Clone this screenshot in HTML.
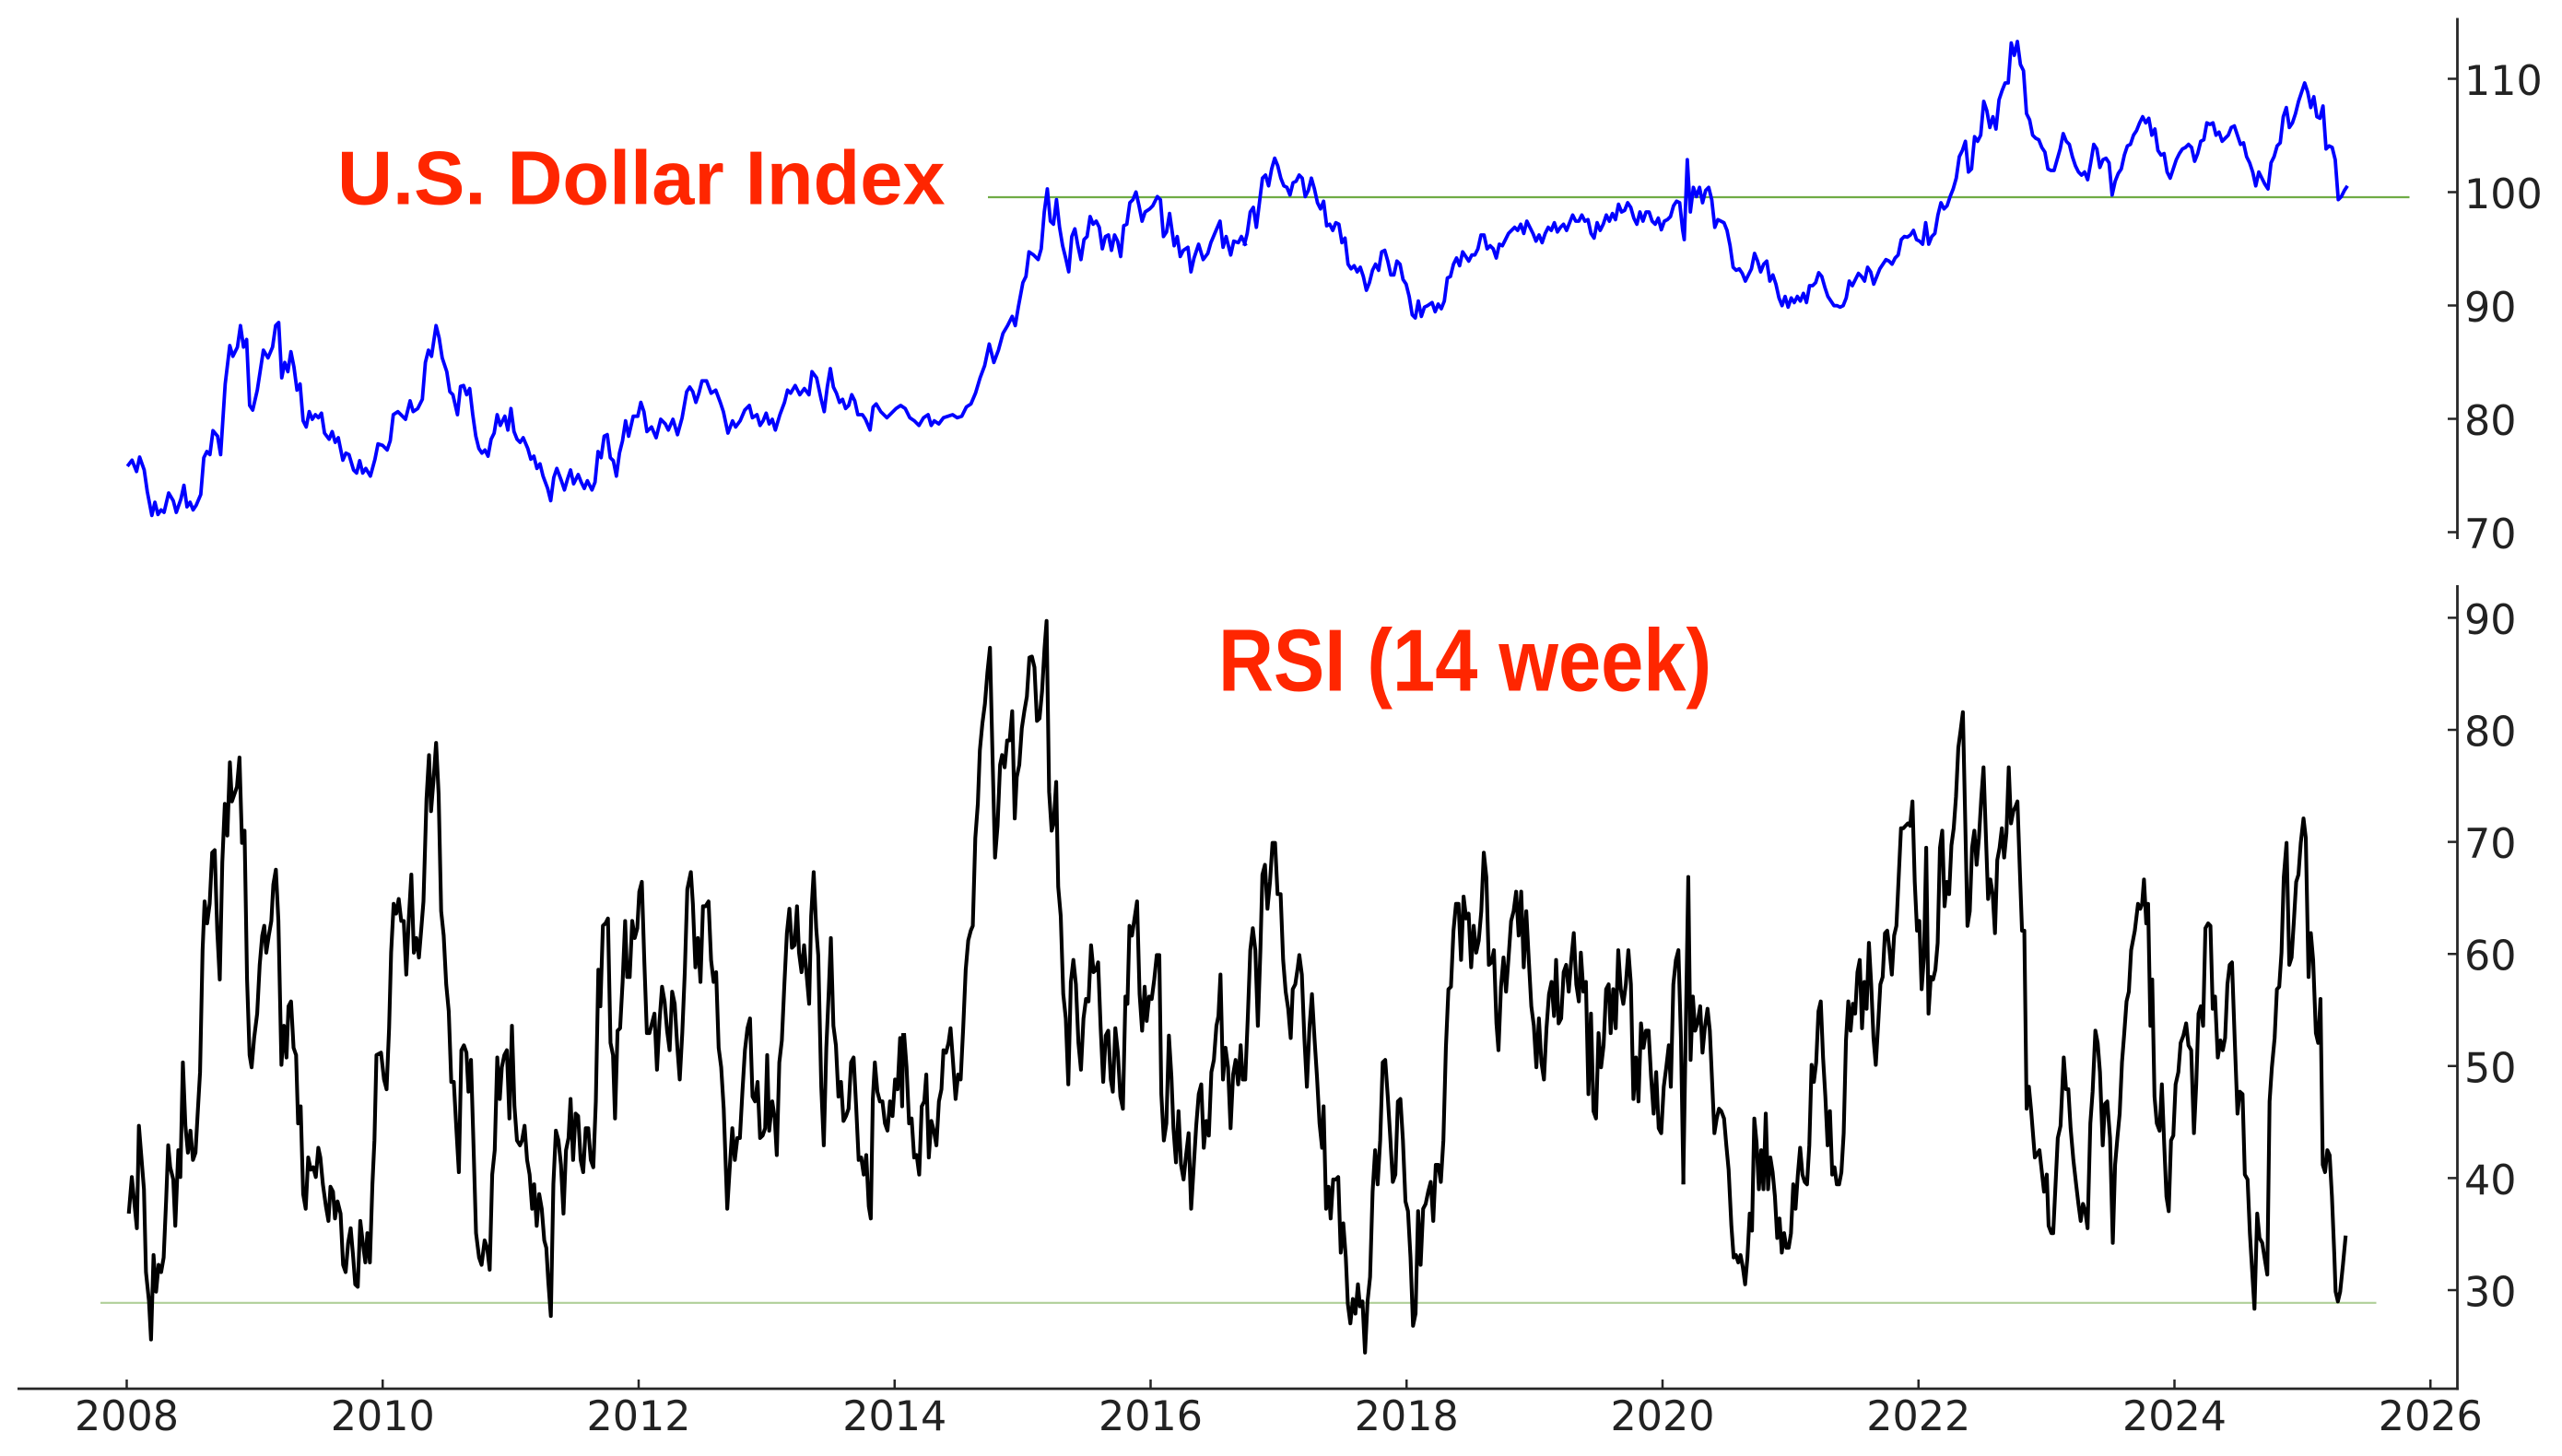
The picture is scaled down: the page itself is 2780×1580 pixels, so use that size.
<!DOCTYPE html>
<html>
<head>
<meta charset="utf-8">
<style>
  html, body { margin: 0; padding: 0; background: #ffffff; }
  svg { display: block; }
  .tick { font-family: "DejaVu Sans", "Liberation Sans", sans-serif; font-size: 44.4px; fill: #222222; }
  .title { font-family: "Liberation Sans", Arial, sans-serif; font-weight: bold; font-size: 83px; fill: #ff2600; }
</style>
</head>
<body>
<svg width="2780" height="1580" viewBox="0 0 2780 1580" xmlns="http://www.w3.org/2000/svg">
  <rect x="0" y="0" width="2780" height="1580" fill="#ffffff"/>

  <!-- reference lines -->
  <line x1="1072" y1="214" x2="2614.5" y2="214" stroke="#6fac46" stroke-width="2.2"/>
  <line x1="109" y1="1413.8" x2="2578.5" y2="1413.8" stroke="#b0cf98" stroke-width="2.2"/>

  <!-- Blue DXY: segment from zoom 7 -->
  <g transform="translate(120,180) scale(0.82908,0.33333)">
    <polyline fill="none" stroke="#0000ff" stroke-width="3.8" stroke-linejoin="round" vector-effect="non-scaling-stroke"
      points="22,978 28,958 34,995 38,948 44,990 48,1060 54,1138 58,1095 62,1135 66,1120 70,1128 76,1065 82,1090 86,1128 92,1085 96,1040 100,1110 104,1095 108,1120 112,1105 118,1070 122,950 126,930 130,940 134,862 140,880 144,940 150,710 156,585 160,620 166,590 170,520 174,590 178,565 182,780 186,795 192,730 200,600 206,625 212,590 216,520 220,510 224,690 228,640 232,670 236,605 240,655 244,730 248,710 252,830 256,850 260,800 264,825 268,810 272,820 276,805 280,870 286,890 290,865 294,900 298,885 304,958 308,935 312,940 318,990 322,1000 326,960 330,1000 334,985 340,1010 346,955 350,905 356,910 362,925 366,895 370,810 376,800 380,810 386,825 392,765 396,800 402,790 408,760 412,640 416,600 420,620 426,520 430,560 434,625 440,670 444,735 448,745 454,810 458,718 462,715 466,745 470,725 474,810 478,880 482,920 486,935 490,925 494,945 498,890 502,870 506,810 510,845 516,815 520,860 524,790 528,865 532,890 536,900 540,885 546,920 550,955 554,945 558,985 562,970 566,1010 572,1050 576,1090 580,1015 584,985 590,1025 594,1055 598,1020 602,990 606,1035 612,1005 616,1030 620,1050 624,1025 630,1055 634,1030 638,930 642,950 646,880 650,875 654,950 658,960 662,1010 666,935 670,895 674,830 678,880 684,815 690,815 694,770 698,800 702,865 708,850 714,885 720,825 726,840 730,860 736,825 742,875 748,820 754,735 758,720 762,735 766,770 770,740 774,700 780,700 786,740 792,730 798,770 802,800 808,870 814,830 818,850 824,830 830,795 836,780 840,820 846,810 850,845 854,830 858,805 862,840 866,825 870,860 876,810 882,770 886,730 890,740 896,715 902,745 908,725 914,745 918,670 924,690 930,760 934,800 938,720 942,660 946,720 950,740 954,770 958,760 962,790 966,780 970,745 974,765 978,810 984,810 988,825 994,860 998,785 1002,775 1008,800 1016,820 1022,805 1028,790 1034,780 1040,790 1046,820 1052,830 1058,845 1064,820 1070,810 1074,845 1078,830 1084,840 1090,820 1096,815 1102,810 1108,820 1114,815 1120,785 1126,775 1132,740 1138,690 1144,650 1150,580 1156,640 1162,600 1168,545 1174,520 1180,490 1184,520 1188,460 1194,380 1198,360 1202,280 1208,290 1214,305 1218,270 1222,150 1226,75 1230,180 1234,190 1238,110 1242,200 1246,260 1250,300 1254,345 1258,230 1262,205 1266,260 1270,305 1274,240 1278,230 1282,165 1286,190 1290,180 1294,200 1298,270 1302,230 1306,225 1310,275 1314,225 1318,245 1322,295 1326,195 1330,190 1334,120 1338,110 1342,85 1346,130 1350,180 1354,150 1360,140 1364,130 1370,100 1374,110 1378,230 1382,215 1386,155 1392,260 1396,230 1400,295 1404,275 1410,265 1414,345 1418,300 1424,255 1430,305 1436,285 1440,250 1446,215 1452,180 1456,265 1460,230 1466,290 1470,245 1476,250 1480,230 1486,260"/>
  </g>

  <!-- Blue DXY: segment from zoom 8 -->
  <g transform="translate(1350,20) scale(0.82908,0.33333)">
    <polyline fill="none" stroke="#0000ff" stroke-width="3.8" stroke-linejoin="round" vector-effect="non-scaling-stroke"
      points="0,740 4,700 8,630 12,615 16,680 20,600 24,520 28,510 32,545 36,490 40,455 44,480 48,520 52,545 56,550 60,575 64,535 68,530 72,510 76,520 80,580 84,560 88,520 92,555 96,600 100,620 104,595 108,675 112,670 116,690 120,665 124,670 128,730 132,715 136,800 140,815 144,805 148,825 152,810 156,840 160,885 164,860 168,820 172,800 176,820 180,760 184,755 188,790 192,835 196,835 200,790 204,800 208,850 212,865 216,905 220,965 224,975 228,920 232,970 236,940 240,935 246,925 250,955 254,930 258,945 262,920 266,845 270,840 274,800 278,780 282,805 286,760 290,775 294,790 298,770 302,770 306,750 310,705 314,705 318,750 322,740 326,750 330,780 334,735 338,740 342,720 346,700 350,690 354,680 358,690 362,670 366,700 370,660 374,680 378,700 382,725 386,705 390,730 394,700 398,680 402,690 406,665 410,695 414,680 418,670 422,690 426,665 430,640 434,660 438,660 442,640 446,660 450,655 454,700 458,715 462,665 466,690 470,670 474,640 478,660 482,635 486,655 490,605 494,630 498,625 502,600 506,615 510,650 514,670 518,630 522,660 526,630 530,630 534,660 538,670 542,650 546,688 550,660 554,655 558,645 562,610 566,595 570,600 574,690 576,720 580,460 584,630 588,550 592,580 596,550 600,600 604,560 608,550 612,590 616,680 620,655 624,660 628,665 632,690 636,740 640,810 644,820 648,815 652,830 656,855 660,835 664,815 668,765 672,790 676,825 680,800 684,790 688,855 692,835 696,865 700,910 704,935 708,905 712,940 716,910 720,925 724,905 728,920 732,895 736,925 740,870 744,870 748,860 752,828 756,840 760,875 764,905 768,920 772,935 776,935 780,940 784,935 788,910 792,855 796,870 800,850 804,830 808,840 812,855 816,810 820,825 824,865 828,840 832,815 836,800 840,785 844,790 848,800 852,780 856,770 860,720 864,710 868,712 872,705 876,690 880,720 884,725 888,735 892,665 896,735 900,710 904,700 908,640 912,600 916,620 920,610 924,580 928,555 932,520 936,450 940,430 944,400 948,500 952,490 956,385 960,400 964,380 968,270 972,300 976,355 980,320 984,360 988,265 992,235 996,210 1000,210 1004,80 1008,120 1012,75 1016,150 1020,170 1024,310 1028,330 1032,380 1036,390 1040,395 1044,420 1048,435 1052,490 1056,495 1060,495 1064,460 1068,425 1072,375 1076,400 1080,410 1084,450 1088,480 1092,500 1096,510 1100,500 1104,525 1108,470 1112,410 1116,425 1120,485 1124,460 1128,455 1132,470 1136,575 1140,530 1144,505 1148,490 1152,445 1156,415 1160,410 1164,380 1168,365 1172,340 1176,320 1180,340 1184,325 1188,380 1192,360 1196,430 1200,445 1204,440 1208,500 1212,520 1216,490 1220,460 1224,440 1228,425 1232,420 1236,410 1240,420 1244,465 1248,440 1252,400 1256,395 1260,340 1264,345 1268,340 1272,380 1276,370 1280,400 1284,390 1288,380 1292,355 1296,350 1300,380 1304,410 1308,405 1312,450 1316,470 1320,500 1324,545 1328,500 1332,520 1336,540 1340,555 1344,470 1348,450 1352,415 1356,405 1360,320 1364,290 1368,355 1372,340 1376,310 1380,270 1384,240 1388,210 1392,240 1396,290 1400,255 1404,320 1408,325 1412,285 1416,425 1420,415 1424,420 1428,460 1432,590 1436,580 1440,560 1444,545"/>
  </g>

  <!-- Black RSI: segment from zoom 9 -->
  <g transform="translate(120,650) scale(0.54847,0.52934)">
    <polyline fill="none" stroke="#000000" stroke-width="4.1" stroke-linejoin="round" vector-effect="non-scaling-stroke"
      points="36,1260 42,1185 52,1290 56,1080 66,1210 70,1380 76,1440 80,1518 85,1345 90,1420 95,1365 100,1380 105,1350 110,1230 114,1120 118,1165 124,1190 128,1285 134,1130 138,1185 143,950 148,1080 153,1135 158,1090 163,1150 168,1135 172,1060 177,970 182,720 186,620 191,665 196,625 201,520 206,515 211,680 216,780 221,540 226,420 231,485 236,335 240,415 245,400 250,385 255,325 260,500 265,475 270,780 275,935 279,960 284,900 290,850 295,750 300,690 304,670 308,725 313,690 318,660 322,585 327,555 332,660 338,955 343,875 348,940 352,835 357,825 362,920 367,935 371,1075 376,1040 381,1220 386,1250 391,1145 396,1170 401,1165 406,1185 411,1125 415,1145 420,1200 426,1245 431,1275 435,1205 440,1215 444,1270 449,1235 455,1260 460,1365 465,1380 470,1320 475,1290 480,1350 484,1405 489,1410 494,1275 499,1320 504,1360 508,1300 513,1360 518,1200 522,1110 526,935 535,930 541,985 546,1005 551,880 555,725 560,625 565,645 570,615 575,660 580,660 585,770 590,655 595,565 600,725 605,695 610,735 614,685 619,620 625,410 630,320 634,435 639,370 644,295 649,400 654,640 659,690 664,790 669,845 674,990 679,990 684,1085 689,1175 694,925 699,915 704,930 708,1010 713,945 718,1120 723,1300 729,1350 734,1365 740,1315 745,1330 750,1375 755,1180 760,1130 765,940 770,1025 774,960 779,935 784,925 789,1065 794,875 799,1040 804,1110 810,1120 814,1110 819,1080 824,1150 829,1180 834,1250 838,1200 843,1285 848,1220 853,1250 858,1315 862,1330 866,1400 871,1470 876,1200 881,1090 886,1110 891,1160 896,1260 901,1130 906,1105 910,1025 915,1150 920,1055 925,1060 930,1150 935,1175 940,1085 945,1085 950,1150 955,1165 960,1030 965,760 969,835 974,670 979,665 984,655 989,910 994,935 998,1065 1003,885 1008,880 1013,785 1018,660 1022,775 1027,775 1032,660 1037,695 1042,675 1046,600 1051,580 1056,745 1061,890 1066,890 1071,870 1076,850 1081,965 1086,865 1091,795 1096,825 1101,885 1106,925 1111,805 1116,830 1121,915 1126,985 1131,890 1136,765 1141,595 1148,560 1152,625 1157,755 1162,695 1167,785 1172,630 1177,630 1183,620 1188,740 1193,785 1198,765 1203,920 1208,960 1213,1045 1220,1250 1225,1165 1230,1085 1235,1150 1240,1105 1245,1105 1250,1010 1255,925 1260,880 1265,860 1270,1020 1275,1030 1280,990 1285,1105 1290,1100 1295,1085 1299,935 1303,1090 1309,1030 1314,1065 1318,1140 1323,950 1328,905 1333,790 1338,685 1343,635 1348,715 1353,710 1358,630 1362,725 1367,765 1372,710 1377,770 1382,830 1386,650 1391,560 1396,675 1400,730 1406,1000 1411,1120 1416,920 1421,800 1425,695 1430,875 1435,915 1440,1020 1445,990 1450,1070 1455,1060 1460,1045 1465,950 1470,940 1475,1040 1480,1150 1485,1145 1490,1180 1495,1140 1500,1245 1504,1270 1508,1025 1512,950 1517,1010 1522,1030 1527,1030 1532,1075 1537,1090 1542,1030 1547,1060 1552,985 1557,1005 1562,900 1566,1040 1568,890"/>
  </g>

  <!-- Black RSI: segment from zoom 10 -->
  <g transform="translate(970,650) scale(0.54847,0.52934)">
    <polyline fill="none" stroke="#000000" stroke-width="4.1" stroke-linejoin="round" vector-effect="non-scaling-stroke"
      points="20,890 25,960 30,1075 35,1065 40,1145 45,1140 50,1180 55,1040 60,1030 64,975 69,1145 74,1070 79,1090 84,1120 89,1030 94,1005 98,925 103,930 108,910 112,880 117,950 122,1025 127,975 132,985 137,880 142,760 147,700 152,680 156,670 161,490 166,420 170,310 175,255 180,215 185,150 190,100 195,320 200,530 205,465 210,340 214,320 219,345 224,290 229,290 234,230 239,450 243,365 248,340 253,265 258,230 263,200 268,120 273,118 278,140 283,250 288,245 293,190 298,100 302,45 307,395 312,475 316,460 321,375 325,590 330,650 335,810 340,860 345,995 350,785 355,740 360,790 365,910 370,965 375,860 380,820 385,825 390,710 395,765 400,760 404,745 409,880 414,990 419,895 424,885 429,985 433,1010 438,880 443,930 448,1020 453,1045 458,815 462,830 466,670 471,690 476,655 481,620 486,810 491,885 496,795 500,865 505,815 510,820 515,780 520,730 525,730 529,1015 534,1110 539,1075 544,895 549,980 553,1085 558,1155 563,1050 568,1160 573,1190 578,1140 583,1095 588,1250 593,1165 598,1080 603,1015 608,995 613,1125 618,1070 623,1100 628,970 633,945 638,875 642,855 646,770 651,985 656,920 661,960 666,1085 671,975 676,945 681,995 686,915 690,985 695,985 700,860 705,720 710,675 715,720 720,875 725,720 729,565 734,545 739,635 744,580 749,500 754,500 759,605 765,605 770,740 775,805 780,840 785,900 789,800 794,790 799,755 802,730 807,770 812,900 817,1000 822,880 827,810 832,900 837,980 842,1075 847,1125 850,1040 855,1250 860,1205 864,1270 869,1190 874,1190 879,1185 884,1340 889,1280 894,1350 898,1445 903,1485 908,1435 913,1465 918,1405 922,1450 927,1440 932,1545 937,1440 942,1390 947,1215 952,1130 957,1200 962,1110 967,950 972,945 977,1020 982,1105 987,1195 992,1180 997,1030 1002,1025 1007,1110 1012,1235 1017,1255 1022,1350 1027,1490 1032,1465 1037,1255 1042,1365 1047,1250 1052,1240 1057,1215 1062,1195 1067,1275 1072,1160 1077,1160 1082,1195 1087,1110 1092,920 1097,800 1102,795 1107,680 1112,625 1117,625 1122,740 1127,610 1132,655 1137,645 1142,755 1147,670 1152,725 1157,700 1162,640 1167,520 1172,570 1177,750 1182,745 1187,720 1192,870 1196,925 1201,795 1206,735 1211,805 1216,735 1221,660 1226,640 1231,600 1236,690 1241,600 1246,755 1251,640 1256,740 1261,835 1266,875 1271,960 1276,860 1281,950 1286,985 1291,880 1296,810 1301,785 1306,855 1310,740 1315,870 1320,860 1325,765 1330,750 1335,805 1340,740 1345,685 1350,790 1355,825 1359,725 1364,805 1369,785 1374,1015 1379,850 1384,1050 1389,1065 1394,890 1399,960 1404,915 1409,800 1414,790 1418,890 1423,800 1428,880 1433,720 1438,800 1443,830 1448,790 1453,720 1458,790 1463,1025 1468,940 1473,1030 1478,870 1483,920 1488,885 1493,885 1498,980 1503,1055 1508,970 1513,1085 1518,1095 1523,1000 1528,960 1533,915 1537,1000 1542,790 1547,740 1552,720 1557,900 1562,1200"/>
  </g>

  <!-- Black RSI: segment from zoom 11 -->
  <g transform="translate(1820,650) scale(0.49745,0.52934)">
    <polyline fill="none" stroke="#000000" stroke-width="4.1" stroke-linejoin="round" vector-effect="non-scaling-stroke"
      points="13,1200 24,570 29,945 34,815 39,885 44,870 50,835 55,930 60,880 66,840 71,885 76,990 81,1095 86,1065 91,1045 96,1050 102,1065 107,1120 112,1170 118,1285 123,1350 128,1345 133,1360 138,1345 143,1370 148,1405 153,1350 158,1260 163,1295 168,1065 173,1115 178,1210 183,1130 188,1210 193,1055 198,1210 203,1145 208,1175 213,1225 218,1310 223,1270 228,1340 233,1300 238,1330 243,1330 248,1300 253,1200 258,1250 263,1180 268,1125 273,1180 278,1195 283,1200 288,1120 293,955 298,990 303,950 308,845 313,825 318,940 323,1020 328,1120 333,1050 338,1180 343,1165 348,1200 353,1200 358,1175 363,1095 368,905 373,825 378,885 383,830 388,850 393,765 398,740 403,880 408,785 413,840 418,705 423,790 428,900 433,955 438,875 443,790 448,775 453,685 458,680 463,720 468,770 473,690 478,670 483,570 488,470 493,470 498,465 503,460 508,465 513,415 518,580 523,680 528,660 533,800 538,735 543,510 548,850 553,775 558,780 563,760 568,705 573,510 578,475 583,630 588,580 593,605 598,505 603,470 608,405 613,305 618,270 623,232 628,450 633,670 638,640 643,510 648,475 653,545 658,490 663,410 668,345 673,480 678,615 683,575 688,605 693,685 698,535 703,510 708,470 713,530 718,480 723,345 728,460 733,435 738,425 742,415 747,550 752,680 757,680 762,1045 767,1000 772,1050 780,1145 790,1130 800,1215 806,1180 810,1285 816,1300 820,1300 830,1105 836,1080 843,940 848,1005 853,1005 858,1085 864,1150 870,1200 875,1240 880,1275 885,1240 890,1255 895,1290 901,1075 906,1010 912,885 917,910 922,970 928,1120 933,1035 938,1030 944,1105 950,1320 955,1160 960,1105 965,1055 970,950 975,890 980,825 985,805 990,720 998,680 1005,625 1010,635 1014,625 1018,575 1023,665 1027,625 1032,875 1036,780 1041,1020 1046,1075 1052,1090 1057,995 1062,1115 1067,1225 1072,1255 1077,1110 1082,1100 1087,995 1093,970 1098,910 1104,895 1110,870 1115,915 1121,925 1127,1095 1132,995 1137,850 1142,835 1147,875 1152,675 1158,665 1163,670 1168,840 1173,815 1179,940 1185,905 1190,925 1195,900 1200,790 1205,750 1210,745 1216,905 1222,1055 1227,1010 1233,1015 1238,1180 1244,1190 1249,1300 1259,1455 1265,1260 1270,1310 1276,1320 1281,1350 1287,1385 1292,1030 1297,960 1303,900 1308,800 1313,795 1318,725 1323,570 1329,500 1335,750 1340,735 1345,660 1350,580 1355,565 1360,500 1366,450 1371,490 1377,775 1382,685 1387,740 1393,890 1398,910 1403,820 1408,1160 1413,1175 1418,1130 1423,1140 1428,1225 1433,1340 1436,1420 1441,1440 1446,1420 1452,1365 1458,1305"/>
  </g>

  <!-- Spines -->
  <g stroke="#262626" stroke-width="2.8" fill="none">
    <line x1="2666.5" y1="19.5" x2="2666.5" y2="585"/>
    <line x1="2666.5" y1="635" x2="2666.5" y2="1508.4"/>
    <line x1="19" y1="1507" x2="2667.9" y2="1507"/>
  </g>

  <!-- Ticks (inward) -->
  <g stroke="#262626" stroke-width="2.5">
    <line x1="2656" y1="85.5" x2="2666.5" y2="85.5"/>
    <line x1="2656" y1="208.5" x2="2666.5" y2="208.5"/>
    <line x1="2656" y1="331.5" x2="2666.5" y2="331.5"/>
    <line x1="2656" y1="454.5" x2="2666.5" y2="454.5"/>
    <line x1="2656" y1="577.5" x2="2666.5" y2="577.5"/>
    <line x1="2656" y1="670.4" x2="2666.5" y2="670.4"/>
    <line x1="2656" y1="792" x2="2666.5" y2="792"/>
    <line x1="2656" y1="913.6" x2="2666.5" y2="913.6"/>
    <line x1="2656" y1="1035.2" x2="2666.5" y2="1035.2"/>
    <line x1="2656" y1="1156.8" x2="2666.5" y2="1156.8"/>
    <line x1="2656" y1="1278.4" x2="2666.5" y2="1278.4"/>
    <line x1="2656" y1="1400" x2="2666.5" y2="1400"/>
    <line x1="137.5" y1="1497" x2="137.5" y2="1507"/>
    <line x1="415.25" y1="1497" x2="415.25" y2="1507"/>
    <line x1="693" y1="1497" x2="693" y2="1507"/>
    <line x1="970.75" y1="1497" x2="970.75" y2="1507"/>
    <line x1="1248.5" y1="1497" x2="1248.5" y2="1507"/>
    <line x1="1526.25" y1="1497" x2="1526.25" y2="1507"/>
    <line x1="1804" y1="1497" x2="1804" y2="1507"/>
    <line x1="2081.75" y1="1497" x2="2081.75" y2="1507"/>
    <line x1="2359.5" y1="1497" x2="2359.5" y2="1507"/>
    <line x1="2637.25" y1="1497" x2="2637.25" y2="1507"/>
  </g>

  <!-- Y tick labels -->
  <g class="tick">
    <text x="2674" y="103">110</text>
    <text x="2674" y="226">100</text>
    <text x="2674" y="349">90</text>
    <text x="2674" y="472">80</text>
    <text x="2674" y="595">70</text>
    <text x="2674" y="688">90</text>
    <text x="2674" y="809.5">80</text>
    <text x="2674" y="931">70</text>
    <text x="2674" y="1052.5">60</text>
    <text x="2674" y="1174.3">50</text>
    <text x="2674" y="1296">40</text>
    <text x="2674" y="1417.5">30</text>
  </g>

  <!-- X tick labels -->
  <g class="tick" text-anchor="middle">
    <text x="137.5" y="1552">2008</text>
    <text x="415.25" y="1552">2010</text>
    <text x="693" y="1552">2012</text>
    <text x="970.75" y="1552">2014</text>
    <text x="1248.5" y="1552">2016</text>
    <text x="1526.25" y="1552">2018</text>
    <text x="1804" y="1552">2020</text>
    <text x="2081.75" y="1552">2022</text>
    <text x="2359.5" y="1552">2024</text>
    <text x="2637.25" y="1552">2026</text>
  </g>

  <!-- Titles -->
  <text class="title" x="366" y="221.7">U.S. Dollar Index</text>
  <text class="title" transform="translate(1322,749.3) scale(1,1.155)" x="0" y="0">RSI (14 week)</text>
</svg>
</body>
</html>
